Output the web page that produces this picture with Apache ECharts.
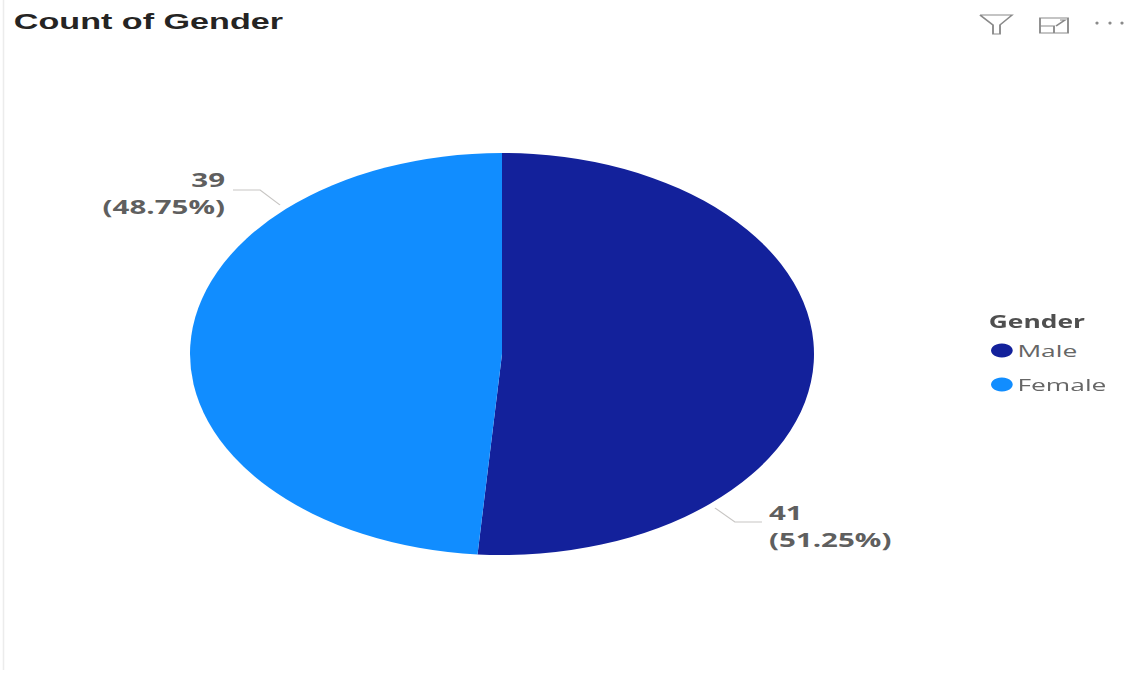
<!DOCTYPE html>
<html>
<head>
<meta charset="utf-8">
<style>
  html, body { margin: 0; padding: 0; width: 1131px; height: 673px; overflow: hidden; background: #fff; }
  #chart { position: absolute; left: 0; top: 0; transform-origin: 0 0; }
</style>
<script src="https://cdn.jsdelivr.net/npm/echarts@6/dist/echarts.min.js"></script>
</head>
<body>
<div id="chart"></div>
<script>
// Gender split shown as a wide, oval pie
const categories = ['Male', 'Female'];
const counts = [41, 39];
const colors = ['#13219b', '#118dff'];

const WIDTH = 1131, HEIGHT = 673;
// The visual is widened horizontally, so the chart is laid out narrow and stretched
const STRETCH = 312 / 201;
const px = x => x / STRETCH;

const el = document.getElementById('chart');
el.style.width = px(WIDTH) + 'px';
el.style.height = HEIGHT + 'px';
el.style.transform = 'scaleX(' + STRETCH + ')';

const labelFont = '"Open Sans", sans-serif';

// Label anchor and leader line for each slice, in page pixels
const labelSpots = {
  Male: { x: 769, y: 526, align: 'left', line: [[715, 508], [735, 522], [762, 522]] },
  Female: { x: 225, y: 193, align: 'right', line: [[280, 205], [260, 190], [233, 190]] }
};

const chart = echarts.init(el, null, { renderer: 'svg', width: px(WIDTH), height: HEIGHT });

// Toolbar glyphs in the top right corner
const iconStroke = { stroke: '#8a8a8a', lineWidth: 1.2, fill: 'none' };
const toolbar = [
  { type: 'polyline', shape: { points: [[980, 15], [1012, 15], [1000, 25], [1000, 34], [993, 34], [993, 25], [980, 15]].map(p => [px(p[0]), p[1]]) }, style: iconStroke },
  { type: 'rect', shape: { x: px(1040), y: 18, width: px(1068) - px(1040), height: 15 }, style: iconStroke },
  { type: 'polyline', shape: { points: [[1040, 26], [1054, 26], [1054, 33]].map(p => [px(p[0]), p[1]]) }, style: iconStroke },
  { type: 'polyline', shape: { points: [[1056, 26], [1065, 20], [1060, 20]].map(p => [px(p[0]), p[1]]) }, style: iconStroke }
];
[1097, 1110, 1122].forEach(x => {
  toolbar.push({ type: 'ellipse', shape: { cx: px(x), cy: 23, rx: px(1.6), ry: 1.6 }, style: { fill: '#8a8a8a' } });
});
// Faint panel edge on the left
toolbar.push({ type: 'line', shape: { x1: px(3.5), y1: 0, x2: px(3.5), y2: 670 }, style: { stroke: '#ececec', lineWidth: 1 } });

chart.setOption({
  animation: false,
  backgroundColor: '#ffffff',
  color: colors,
  title: [
    {
      text: 'Count of Gender',
      left: px(6), top: 5,
      textStyle: { fontFamily: '"Liberation Sans", Arial, sans-serif', fontWeight: 'bold', fontSize: 22, color: '#252423' }
    },
    {
      text: 'Gender',
      left: px(981), top: 308,
      textStyle: { fontFamily: labelFont, fontWeight: 700, fontSize: 17, color: '#4f4f4f' }
    }
  ],
  legend: {
    orient: 'vertical',
    left: px(991), top: 342,
    icon: 'circle',
    itemWidth: 14, itemHeight: 14, itemGap: 17,
    padding: 0,
    selectedMode: false,
    data: categories,
    textStyle: { fontFamily: labelFont, fontSize: 17, color: '#666666', padding: [0, 0, 0, -2] }
  },
  graphic: toolbar,
  series: [{
    type: 'pie',
    center: [px(502), 354],
    radius: [0, 201],
    startAngle: 90,
    clockwise: true,
    percentPrecision: 2,
    data: categories.map((name, i) => ({ name, value: counts[i] })),
    itemStyle: { borderWidth: 0 },
    label: {
      show: true,
      position: 'outside',
      formatter: '{c}\n({d}%)',
      overflow: 'none',
      fontFamily: labelFont,
      fontWeight: 700,
      fontSize: 19,
      lineHeight: 27,
      color: '#5f5f5f'
    },
    labelLine: { show: true, lineStyle: { color: '#c8c6c4', width: 1 } },
    labelLayout: function (params) {
      const spot = labelSpots[categories[params.dataIndex]];
      return {
        x: px(spot.x),
        y: spot.y,
        align: spot.align,
        verticalAlign: 'middle',
        labelLinePoints: spot.line.map(p => [px(p[0]), p[1]])
      };
    }
  }]
});
</script>
</body>
</html>
